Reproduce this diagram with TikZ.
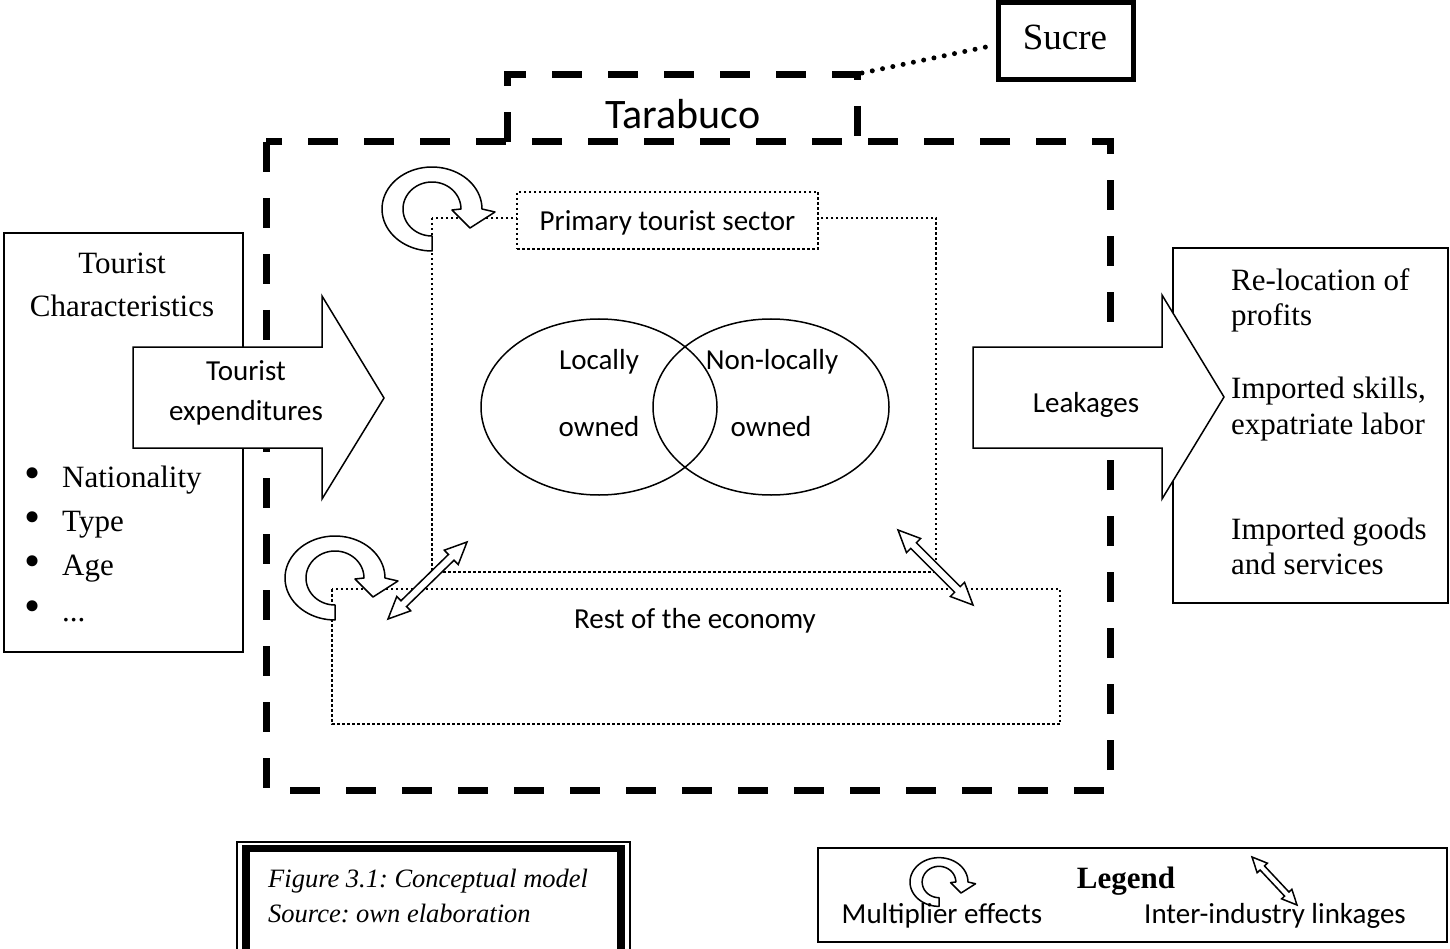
\documentclass[tikz,border=0pt]{standalone}
\usepackage{fontspec}
\setmainfont{Liberation Serif}
\newfontfamily\calib{Carlito}
\usetikzlibrary{calc,shapes.geometric}
\frenchspacing

\tikzset{
  bigdash/.style={line width=7pt, dash pattern=on 30pt off 26pt},
  finedot/.style={line width=2pt, dash pattern=on 2.5pt off 2.5pt},
  dotline/.style={line width=5pt, dash pattern=on 0pt off 10.5pt, line cap=round},
  multst/.style={draw=black, fill=white, line width=1.5pt, line join=round},
  linkst/.style={draw=black, fill=white, line width=1.5pt, line join=miter},
  bigarrow/.style={draw=black, fill=white, line width=1.5pt, line join=miter},
  plainbox/.style={draw=black, line width=1.5pt, inner sep=0pt},
  tserif/.style={font=\fontsize{31}{36}\selectfont, inner sep=0pt},
  tbullet/.style={font=\fontsize{46}{50}\selectfont, inner sep=0pt},
  tsans/.style={font=\calib\fontsize{29}{34}\selectfont, inner sep=0pt},
  tcap/.style={font=\itshape\fontsize{26.5}{31}\selectfont, inner sep=0pt},
}

\newcommand{\multarrow}[3]{%
  \begin{scope}[shift={(#1,#2)}, scale=#3]
    \filldraw[multst] plot[domain=90:360, samples=60] ({50*cos(\x)},{42*sin(\x)})
      -- (63,3) -- (38,19) -- (20,1)
      -- plot[domain=360:90, samples=60] ({29*cos(\x)},{27*sin(\x)}) -- cycle;
  \end{scope}}

\newcommand{\linkarrow}[5]{%
  \filldraw[linkst] (#1)
    -- ($(#1)!#3!(#2)!#4!90:(#2)$) -- ($(#1)!#3!(#2)!#5!90:(#2)$)
    -- ($(#2)!#3!(#1)!#5!-90:(#1)$) -- ($(#2)!#3!(#1)!#4!-90:(#1)$)
    -- (#2)
    -- ($(#2)!#3!(#1)!#4!90:(#1)$) -- ($(#2)!#3!(#1)!#5!90:(#1)$)
    -- ($(#1)!#3!(#2)!#5!-90:(#2)$) -- ($(#1)!#3!(#2)!#4!-90:(#2)$)
    -- cycle;}

\begin{document}
\begin{tikzpicture}[x=1pt,y=-1pt]
\useasboundingbox (0,0) rectangle (1450,949);

% side boxes
\node (chars) [plainbox, minimum width=239pt, minimum height=419pt] at (123.5,442.5) {};
\node (leakbox) [plainbox, minimum width=275pt, minimum height=355pt] at (1310.5,425.5) {};

% Tarabuco dashed region
\draw[bigdash] (266,142) rectangle (1110,790);
\draw[bigdash] (507,142) -- (507,75) -- (857,75) -- (857,142);
\coordinate (tarcorner) at (862,73);

% Sucre
\node (sucre) [draw=black, line width=5pt, minimum width=135pt, minimum height=77pt, inner sep=0pt] at (1065.5,41.5) {};
\draw[dotline] (tarcorner) -- (sucre.west |- 0,45);

% dotted sectors
\draw[finedot] (432,218) rectangle (936,572);
\node (primlabel) [draw=black, finedot, fill=white, minimum width=301pt, minimum height=57pt] at (667.5,220.5) {};
\draw[finedot] (332,589) rectangle (1060,724);

% ownership ellipses
\node (loc) [draw=black, ellipse, line width=1.5pt, minimum width=236pt, minimum height=176pt, inner sep=0pt] at (599,407) {};
\node (nonloc) [draw=black, ellipse, line width=1.5pt, minimum width=236pt, minimum height=176pt, inner sep=0pt] at (771,407) {};

% multiplier effects
\multarrow{432}{209}{1}
\multarrow{335}{578}{1}

% inter-industry linkages
\coordinate (l1a) at (467,542);
\coordinate (l1b) at (388,619);
\coordinate (l2a) at (898,530);
\coordinate (l2b) at (973,605);
\linkarrow{l1a}{l1b}{22pt}{10pt}{4pt}
\linkarrow{l2a}{l2b}{22pt}{10pt}{4pt}

% big arrows
\filldraw[bigarrow] (133,347) -- (322,347) -- (322,296) -- (384,398) -- (322,499) -- (322,448) -- (133,448) -- cycle;
\filldraw[bigarrow] (973,347) -- (1162,347) -- (1162,295) -- (1224,397) -- (1162,499) -- (1162,448) -- (973,448) -- cycle;

% texts
\node[font=\fontsize{37}{40}\selectfont, inner sep=0pt, anchor=base] (sucretxt) at (1065,50) {Sucre};
\node[font=\calib\fontsize{42}{46}\selectfont, inner sep=0pt, anchor=base] (tartxt) at (683,129) {Tarabuco};
\node[tsans, anchor=base] (primtxt) at (667.5,231) {Primary tourist sector};
\node[tsans, anchor=base] (t1) at (599,369) {Locally};
\node[tsans, anchor=base] (t2) at (599,436) {owned};
\node[tsans, anchor=base] (t3) at (772,369) {Non-locally};
\node[tsans, anchor=base] (t4) at (771,436) {owned};
\node[tsans, anchor=base] (resttxt) at (695,628) {Rest of the economy};
\node[tsans, anchor=base] (te1) at (246,380) {Tourist};
\node[tsans, anchor=base] (te2) at (246,420) {expenditures};
\node[tsans, anchor=base] (leaktxt) at (1086,412) {Leakages};

\node[tserif, anchor=base] (c1) at (122,274) {Tourist};
\node[tserif, anchor=base] (c2) at (122,317) {Characteristics};
\node[tbullet] (b1) at (33,478) {\textbullet};
\node[tserif, anchor=base west] (bt1) at (62,487) {Nationality};
\node[tbullet] (b2) at (33,522) {\textbullet};
\node[tserif, anchor=base west] (bt2) at (62,531) {Type};
\node[tbullet] (b3) at (33,566) {\textbullet};
\node[tserif, anchor=base west] (bt3) at (62,575) {Age};
\node[tbullet] (b4) at (33,611) {\textbullet};
\node[tserif, anchor=base west] (bt4) at (62,621) {...};

\node[tserif, anchor=base west] (r1) at (1231,291) {Re-location of};
\node[tserif, anchor=base west] (r2) at (1231,326) {profits};
\node[tserif, anchor=base west] (r3) at (1231,398) {Imported skills,};
\node[tserif, anchor=base west] (r4) at (1231,434) {expatriate labor};
\node[tserif, anchor=base west] (r5) at (1231,539) {Imported goods};
\node[tserif, anchor=base west] (r6) at (1231,574) {and services};

% caption box
\draw[line width=1.2pt] (237,960) -- (237,842) -- (630,842) -- (630,960);
\draw[line width=7.5pt] (246,960) -- (246,848.5) -- (621,848.5) -- (621,960);
\node[tcap, anchor=base west] (cap1) at (268,887) {Figure 3.1: Conceptual model};
\node[tcap, anchor=base west] (cap2) at (268,922) {Source: own elaboration};

% legend
\node (legbox) [plainbox, minimum width=629pt, minimum height=94pt] at (1132.5,895) {};
\node[font=\bfseries\fontsize{31}{36}\selectfont, inner sep=0pt, anchor=base] (legtxt) at (1126,888) {Legend};
\multarrow{939}{882}{0.58}
\coordinate (l3a) at (1252,857);
\coordinate (l3b) at (1297,905);
\linkarrow{l3a}{l3b}{15pt}{7pt}{3pt}
\node[tsans, anchor=base] (legm) at (942,923) {Multiplier effects};
\node[tsans, anchor=base] (legl) at (1275,923) {Inter-industry linkages};
\end{tikzpicture}
\end{document}
